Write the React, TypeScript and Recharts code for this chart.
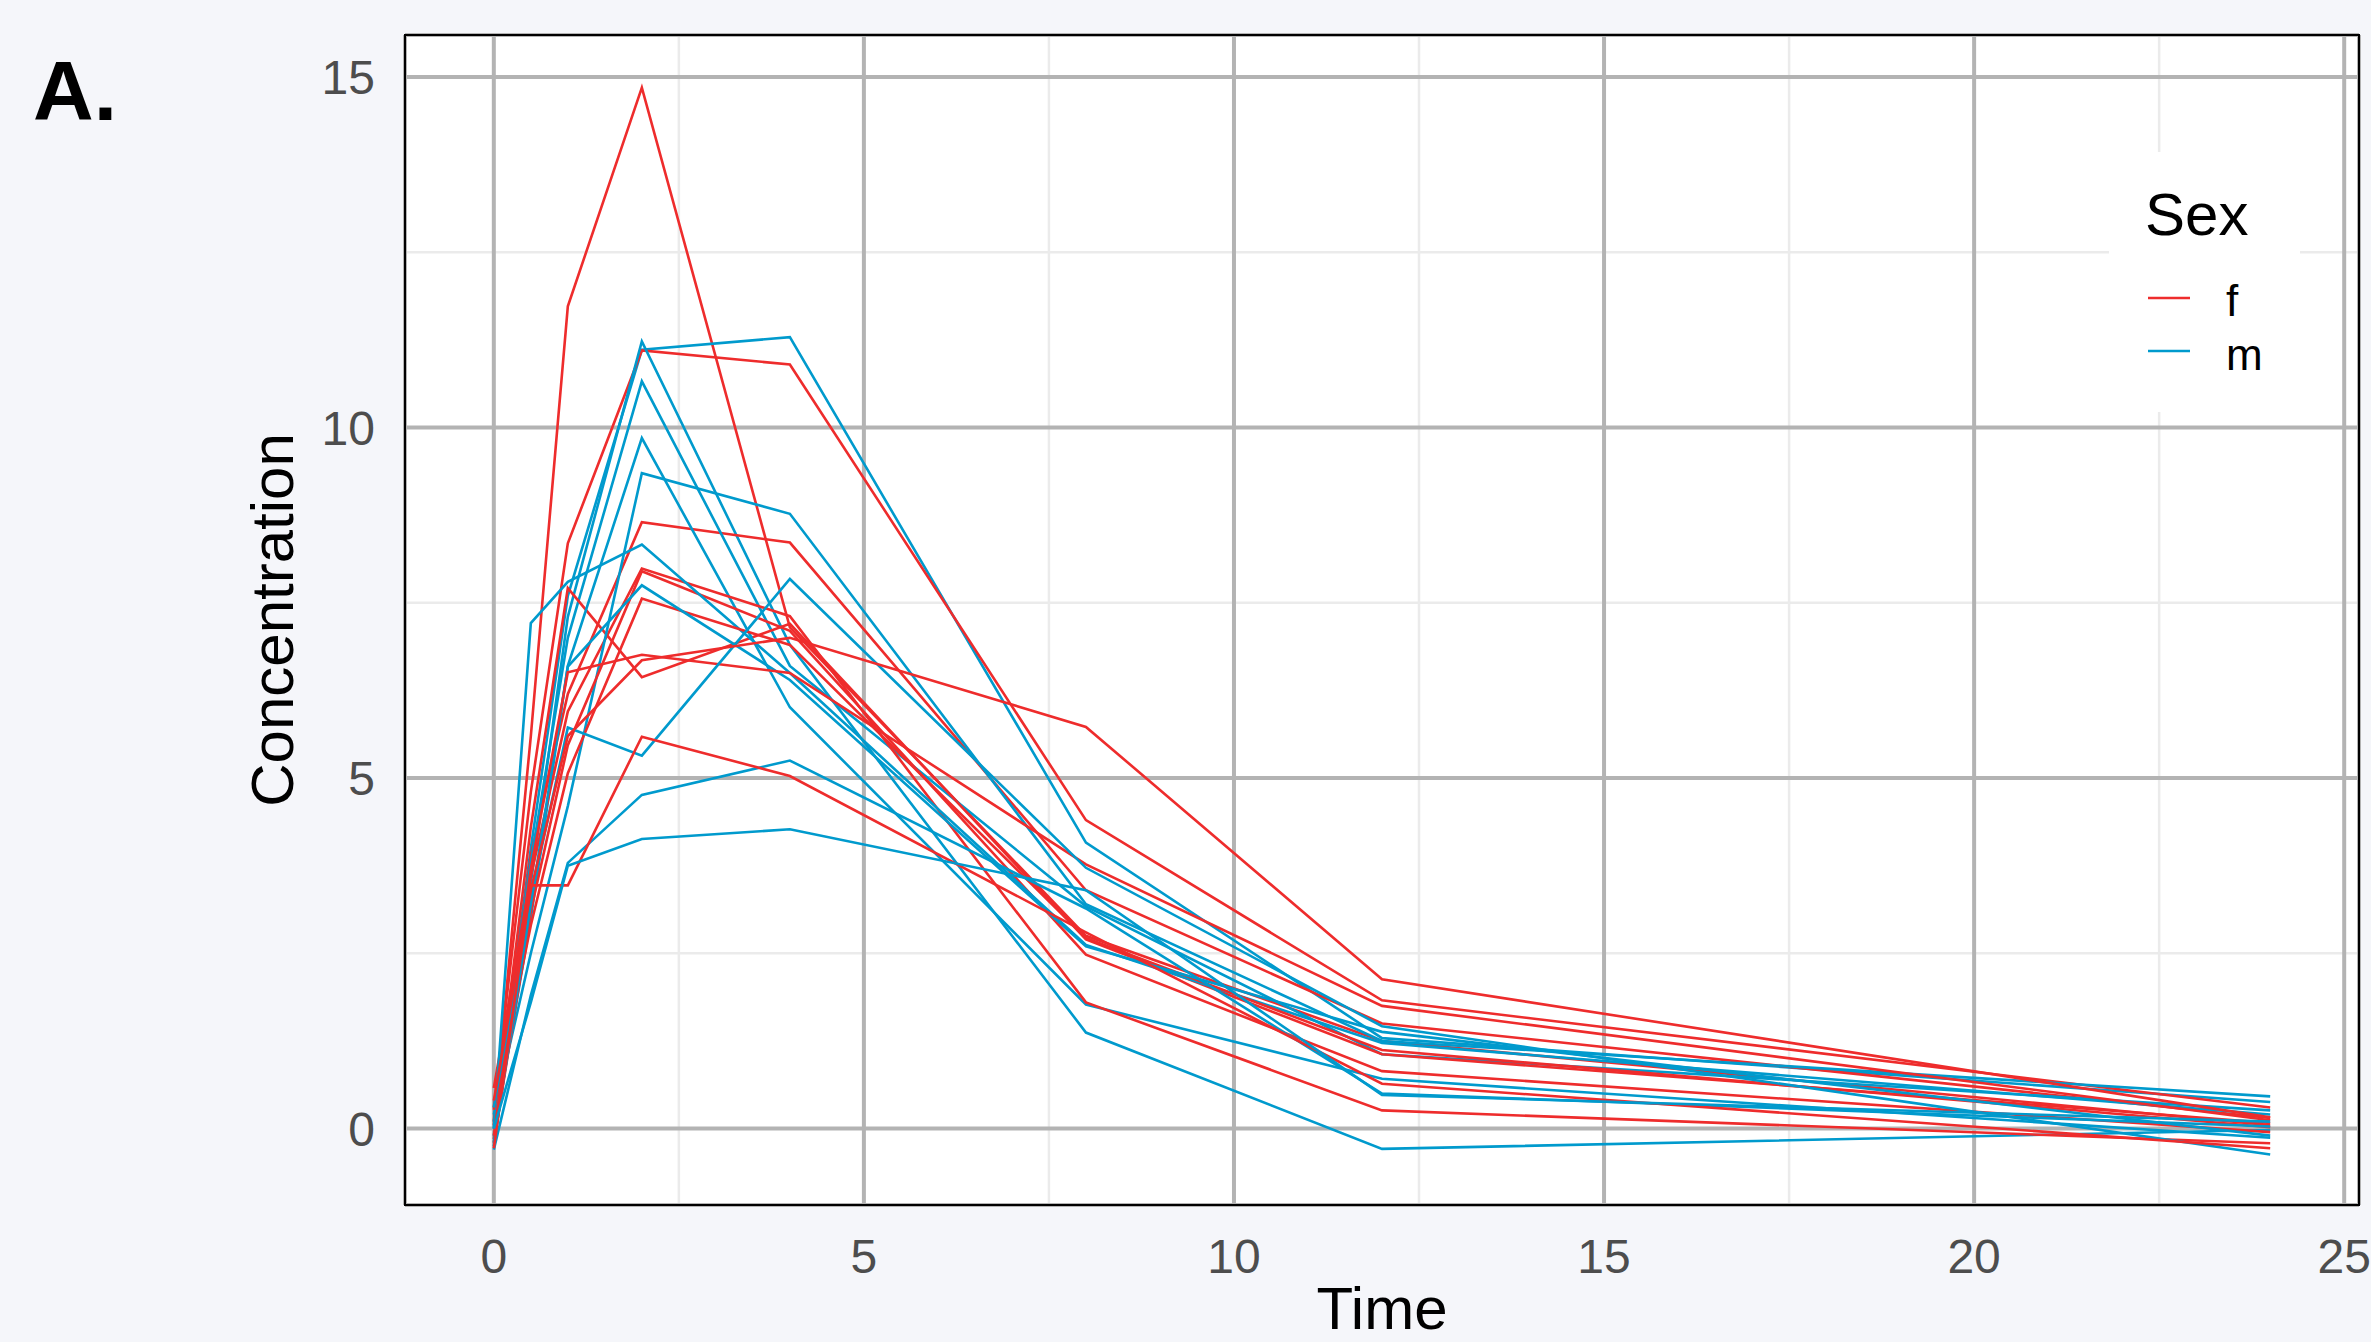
import { LineChart, Line, XAxis, YAxis, CartesianGrid, ReferenceArea, Legend } from 'recharts';

const times = [0, 0.5, 1, 2, 4, 8, 12, 24];

// females
const f01 = [0.1, 5.6, 11.73, 14.85, 7.15, 2.75, 1.25, 0.05];
const f02 = [0.3, 4.8, 8.35, 11.1, 10.9, 4.4, 1.83, 0.3];
const f03 = [-0.15, 3.9, 6.2, 8.65, 8.36, 3.4, 1.5, 0.15];
const f04 = [0.05, 4.3, 7.71, 6.44, 7.2, 2.7, 1.06, 0.08];
const f05 = [0.58, 3.6, 5.95, 7.99, 7.31, 1.8, 0.26, -0.21];
const f06 = [-0.2, 3.1, 5.47, 7.95, 7.1, 2.48, 0.82, -0.05];
const f07 = [0.27, 2.9, 5.07, 7.56, 6.9, 2.72, 1.12, 0.02];
const f08 = [-0.1, 3.7, 6.51, 6.76, 6.5, 3.77, 1.75, 0.12];
const f09 = [0.4, 3.4, 5.6, 6.68, 7.0, 5.73, 2.13, 0.16];
const f10 = [-0.28, 3.47, 3.47, 5.59, 5.03, 2.8, 0.64, -0.28];

// males
const m01 = [0.0, 4.0, 7.6, 11.11, 11.29, 4.08, 1.29, 0.38];
const m02 = [-0.25, 3.5, 7.3, 11.23, 6.9, 1.37, -0.29, -0.02];
const m03 = [0.1, 3.8, 7.0, 10.66, 6.6, 3.17, 1.06, 0.26];
const m04 = [-0.1, 3.0, 6.6, 9.85, 6.01, 1.77, 0.71, -0.13];
const m05 = [0.2, 2.5, 4.6, 9.35, 8.77, 3.2, 1.25, 0.46];
const m06 = [0.0, 7.21, 7.8, 8.33, 6.5, 2.62, 1.22, 0.2];
const m07 = [-0.2, 3.2, 6.59, 7.75, 6.4, 2.6, 1.38, -0.1];
const m08 = [0.3, 3.3, 5.72, 5.32, 7.84, 3.72, 1.46, -0.37];
const m09 = [-0.3, 1.9, 3.79, 4.76, 5.25, 3.14, 0.5, 0.03];
const m10 = [0.0, 1.8, 3.75, 4.13, 4.27, 3.4, 0.48, 0.1];

const subjects = [
  { key: 'f01', sex: 'f', conc: f01 }, { key: 'm01', sex: 'm', conc: m01 },
  { key: 'f02', sex: 'f', conc: f02 }, { key: 'm02', sex: 'm', conc: m02 },
  { key: 'f03', sex: 'f', conc: f03 }, { key: 'm03', sex: 'm', conc: m03 },
  { key: 'f04', sex: 'f', conc: f04 }, { key: 'm04', sex: 'm', conc: m04 },
  { key: 'f05', sex: 'f', conc: f05 }, { key: 'm05', sex: 'm', conc: m05 },
  { key: 'f06', sex: 'f', conc: f06 }, { key: 'm06', sex: 'm', conc: m06 },
  { key: 'f07', sex: 'f', conc: f07 }, { key: 'm07', sex: 'm', conc: m07 },
  { key: 'f08', sex: 'f', conc: f08 }, { key: 'm08', sex: 'm', conc: m08 },
  { key: 'f09', sex: 'f', conc: f09 }, { key: 'm09', sex: 'm', conc: m09 },
  { key: 'f10', sex: 'f', conc: f10 }, { key: 'm10', sex: 'm', conc: m10 },
];

const sexLabels = ['f', 'm'];
const sexColors: Record<string, string> = { f: '#EE2C2C', m: '#009ACD' };

const xTicks = [0, 5, 10, 15, 20, 25];
const yTicks = [0, 5, 10, 15];
const xMinor = [2.5, 7.5, 12.5, 17.5, 22.5];
const yMinor = [2.5, 7.5, 12.5];
const xDomain = [-1.2, 25.2];
const yDomain = [-1.09, 15.6];

const rows = times.map((t, i) => {
  const row: Record<string, number> = { time: t };
  subjects.forEach((s) => {
    row[s.key] = s.conc[i];
  });
  return row;
});

function SexLegend() {
  return (
    <div style={{ position: 'relative', width: 191, height: 260, background: '#fff', fontFamily: '"Liberation Sans", Arial, sans-serif' }}>
      <div style={{ position: 'absolute', left: 36, top: 33, fontSize: 60, lineHeight: 1, color: '#000' }}>Sex</div>
      {sexLabels.map((s, i) => (
        <div key={s}>
          <svg style={{ position: 'absolute', left: 39, top: 140 + i * 53 }} width={42} height={12}>
            <line x1={0} y1={6} x2={42} y2={6} stroke={sexColors[s]} strokeWidth={2.6} />
          </svg>
          <div style={{ position: 'absolute', left: 117, top: 127 + i * 54, fontSize: 44, lineHeight: 1, color: '#000' }}>{s}</div>
        </div>
      ))}
    </div>
  );
}

export default function App() {
  return (
    <div
      style={{
        position: 'absolute',
        left: 0,
        top: 0,
        width: 2371,
        height: 1342,
        background: '#f5f6fa',
        fontFamily: '"Liberation Sans", Arial, sans-serif',
        overflow: 'hidden',
      }}
    >
      <div style={{ position: 'absolute', left: 33, top: 49, fontSize: 84, fontWeight: 700, lineHeight: 1, color: '#000' }}>A.</div>
      <LineChart width={2371} height={1342} data={rows} margin={{ top: 35, right: 12, bottom: 0, left: 0 }}>
        <CartesianGrid fill="#fff" stroke="#ebebeb" strokeWidth={2.5} horizontalValues={yMinor} verticalValues={xMinor} />
        <CartesianGrid stroke="#b3b3b3" strokeWidth={4} />
        <XAxis
          dataKey="time"
          type="number"
          domain={xDomain}
          ticks={xTicks}
          height={137}
          axisLine={false}
          tickLine={false}
          tickMargin={28}
          tick={{ fontSize: 48, fill: '#4d4d4d' }}
          label={{ value: 'Time', position: 'insideBottom', offset: 13, style: { fontSize: 60, fill: '#000' } }}
        />
        <YAxis
          type="number"
          domain={yDomain}
          ticks={yTicks}
          width={405}
          axisLine={false}
          tickLine={false}
          tickMargin={24}
          tick={{ fontSize: 48, fill: '#4d4d4d' }}
          label={{
            value: 'Concentration',
            angle: -90,
            position: 'insideLeft',
            offset: 272,
            style: { fontSize: 60, fill: '#000', textAnchor: 'middle' },
          }}
        />
        {subjects.map((s) => (
          <Line
            key={s.key}
            dataKey={s.key}
            type="linear"
            stroke={sexColors[s.sex]}
            strokeWidth={2.6}
            dot={false}
            isAnimationActive={false}
          />
        ))}
        <ReferenceArea
          x1={xDomain[0]}
          x2={xDomain[1]}
          y1={yDomain[0]}
          y2={yDomain[1]}
          fill="none"
          stroke="#000"
          strokeWidth={2}
          ifOverflow="visible"
        />
        <Legend
          layout="vertical"
          align="center"
          verticalAlign="middle"
          content={() => <SexLegend />}
          wrapperStyle={{ position: 'absolute', left: 2109, top: 152, width: 191, height: 260 }}
        />
      </LineChart>
    </div>
  );
}
